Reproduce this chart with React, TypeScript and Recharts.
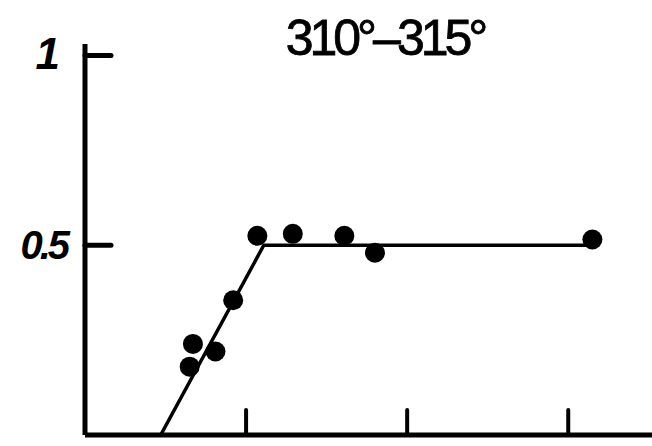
import React from 'react';
import { ComposedChart, Scatter, XAxis, YAxis } from 'recharts';

// measured points (x in tick units, y fraction)
const pointX = [0.65, 0.67, 0.81, 0.92, 1.07, 1.29, 1.61, 1.8, 3.15];
const pointY = [0.18, 0.24, 0.22, 0.355, 0.525, 0.53, 0.525, 0.48, 0.515];

// fitted broken line
const fitX = [0.47, 1.11, 3.15];
const fitY = [0, 0.5, 0.5];

const xTicks = [1, 2, 3];
const yTicks = [0.5, 1];
const yTickLabels = ['0.5', '1'];
const title = '310°–315°';

const points = pointX.map((x, i) => ({ x, y: pointY[i] }));
const fit = fitX.map((x, i) => ({ x, y: fitY[i] }));

const XTick = (props: any) => {
    const { x, y } = props;
    return <line x1={x} y1={y} x2={x} y2={y - 25} stroke="#000" strokeWidth={4} strokeLinecap="round" />;
};

const YTick = (props: any) => {
    const { x, y, payload } = props;
    const idx = yTicks.indexOf(payload.value);
    return (
        <g>
            <line x1={x} y1={y} x2={x + 26} y2={y} stroke="#000" strokeWidth={5} strokeLinecap="round" />
            <text
                x={x - (idx === 1 ? 28 : 18)}
                y={y + 14}
                textAnchor="end"
                fontFamily="Liberation Sans, Arial, sans-serif"
                fontStyle="italic"
                fontWeight="bold"
                fontSize={idx === 1 ? 44 : 40}
                letterSpacing={-3}
                fill="#000"
            >
                {yTickLabels[idx]}
            </text>
        </g>
    );
};

const Dot = (props: any) => <circle cx={props.cx} cy={props.cy} r={10} fill="#000" />;

export default function App() {
    return (
        <div style={{ position: 'fixed', left: 0, top: 0, width: 652, height: 446, background: '#fff' }}>
            <div
                style={{
                    position: 'absolute',
                    left: 260,
                    top: 10,
                    width: 250,
                    textAlign: 'center',
                    fontFamily: 'Liberation Sans, Arial, sans-serif',
                    fontSize: 50,
                    letterSpacing: -4,
                    color: '#000',
                    lineHeight: '56px',
                    WebkitTextStroke: '0.8px #000',
                }}
            >
                {title}
            </div>
            <ComposedChart width={652} height={446} margin={{ top: 44, right: 0, bottom: 0, left: 0 }}>
                <XAxis
                    type="number"
                    dataKey="x"
                    domain={[0, 3.52]}
                    ticks={xTicks}
                    tick={<XTick />}
                    tickLine={false}
                    tickSize={0}
                    tickMargin={0}
                    height={11}
                    axisLine={{ stroke: '#000', strokeWidth: 5 }}
                    allowDataOverflow
                />
                <YAxis
                    type="number"
                    dataKey="y"
                    domain={[0, 1.03]}
                    ticks={yTicks}
                    tick={<YTick />}
                    tickLine={false}
                    tickSize={0}
                    tickMargin={0}
                    width={85}
                    axisLine={{ stroke: '#000', strokeWidth: 5 }}
                    allowDataOverflow
                />
                <Scatter
                    data={fit}
                    line={{ stroke: '#000', strokeWidth: 3.5 }}
                    shape={() => null}
                    isAnimationActive={false}
                />
                <Scatter data={points} shape={<Dot />} isAnimationActive={false} />
            </ComposedChart>
        </div>
    );
}
